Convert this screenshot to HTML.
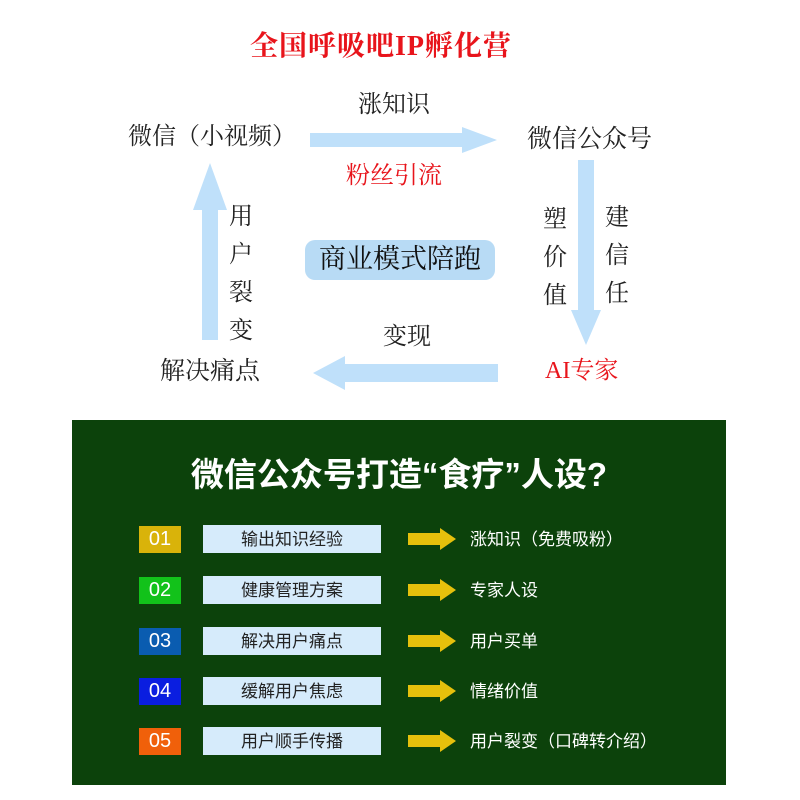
<!DOCTYPE html>
<html><head><meta charset="utf-8"><style>
body{margin:0;width:800px;height:800px;background:#fff;position:relative;overflow:hidden;font-family:"Liberation Serif","Noto Serif CJK SC",serif}
.t{position:absolute;white-space:nowrap;line-height:1}
.s{font-family:"Liberation Sans","Noto Sans CJK SC",sans-serif}
.nb{position:absolute;left:139px;width:42px;height:27px;color:#fff;font:20px "Liberation Sans","Noto Sans CJK SC",sans-serif;text-align:center;line-height:27px}
.lb{position:absolute;left:203px;width:178px;height:28px;background:#d6ebfb;color:#222;font:17px/30px "Liberation Sans","Noto Sans CJK SC",sans-serif;text-align:center}
.rs{position:absolute;left:470px;color:#fff;font:17px/30px "Liberation Sans","Noto Sans CJK SC",sans-serif;white-space:nowrap}
</style></head><body>
<div class="t" style="left:250px;top:33px;font-size:28px;font-weight:bold;color:#e8141b;letter-spacing:1px">全国呼吸吧IP孵化营</div>
<svg width="800" height="400" style="position:absolute;left:0;top:0">
<g fill="#bfe0fa">
<polygon points="310,133 462,133 462,127 497,140 462,153 462,147 310,147"/>
<polygon points="578,160 594,160 594,310 601,310 586,345 571,310 578,310"/>
<polygon points="498,364 345,364 345,356 313,373 345,390 345,382 498,382"/>
<polygon points="202,340 218,340 218,210 227,210 210,163 193,210 202,210"/>
</g>
<rect x="305" y="240" width="190" height="40" rx="10" fill="#b8dbf5"/>
</svg>
<div class="t" style="left:128px;top:125px;font-size:24px;color:#222">微信（小视频）</div>
<div class="t" style="left:358px;top:93px;font-size:24px;color:#222">涨知识</div>
<div class="t" style="left:346px;top:164px;font-size:24px;color:#e8141b">粉丝引流</div>
<div class="t" style="left:527px;top:127px;font-size:25px;color:#222">微信公众号</div>
<div class="t" style="left:543px;top:201px;font-size:24px;color:#222;width:24px;line-height:38px;white-space:normal">塑价值</div>
<div class="t" style="left:605px;top:199px;font-size:24px;color:#222;width:24px;line-height:38px;white-space:normal">建信任</div>
<div class="t" style="left:545px;top:359px;font-size:24px;color:#e8141b">AI专家</div>
<div class="t" style="left:383px;top:325px;font-size:24px;color:#222">变现</div>
<div class="t" style="left:160px;top:359px;font-size:25px;color:#222">解决痛点</div>
<div class="t" style="left:229px;top:198px;font-size:24px;color:#222;width:24px;line-height:38px;white-space:normal">用户裂变</div>
<div class="t" style="left:305px;top:246px;width:190px;text-align:center;font-size:27px;color:#111">商业模式陪跑</div>

<div style="position:absolute;left:72px;top:420px;width:654px;height:365px;background:#0c420b"></div>
<div class="t s" style="left:72px;top:458px;width:654px;text-align:center;font-size:33px;color:#fff;font-weight:bold">微信公众号打造“食疗”人设?</div>

<div class="nb" style="top:526px;background:#d9b30a">01</div>
<div class="nb" style="top:577px;background:#12c21a">02</div>
<div class="nb" style="top:628px;background:#0a5cb0">03</div>
<div class="nb" style="top:678px;background:#0a1ee0">04</div>
<div class="nb" style="top:728px;background:#f0600a">05</div>

<div class="lb" style="top:525px">输出知识经验</div>
<div class="lb" style="top:576px">健康管理方案</div>
<div class="lb" style="top:627px">解决用户痛点</div>
<div class="lb" style="top:677px">缓解用户焦虑</div>
<div class="lb" style="top:727px">用户顺手传播</div>

<svg width="800" height="800" style="position:absolute;left:0;top:0">
<g fill="#e6c00c">
<polygon points="408,533 440,533 440,528 456,539 440,550 440,545 408,545"/>
<polygon points="408,584 440,584 440,579 456,590 440,601 440,596 408,596"/>
<polygon points="408,635 440,635 440,630 456,641 440,652 440,647 408,647"/>
<polygon points="408,685 440,685 440,680 456,691 440,702 440,697 408,697"/>
<polygon points="408,735 440,735 440,730 456,741 440,752 440,747 408,747"/>
</g></svg>
<div class="rs" style="top:525px">涨知识（免费吸粉）</div>
<div class="rs" style="top:576px">专家人设</div>
<div class="rs" style="top:627px">用户买单</div>
<div class="rs" style="top:677px">情绪价值</div>
<div class="rs" style="top:727px">用户裂变（口碑转介绍）</div>
</body></html>
